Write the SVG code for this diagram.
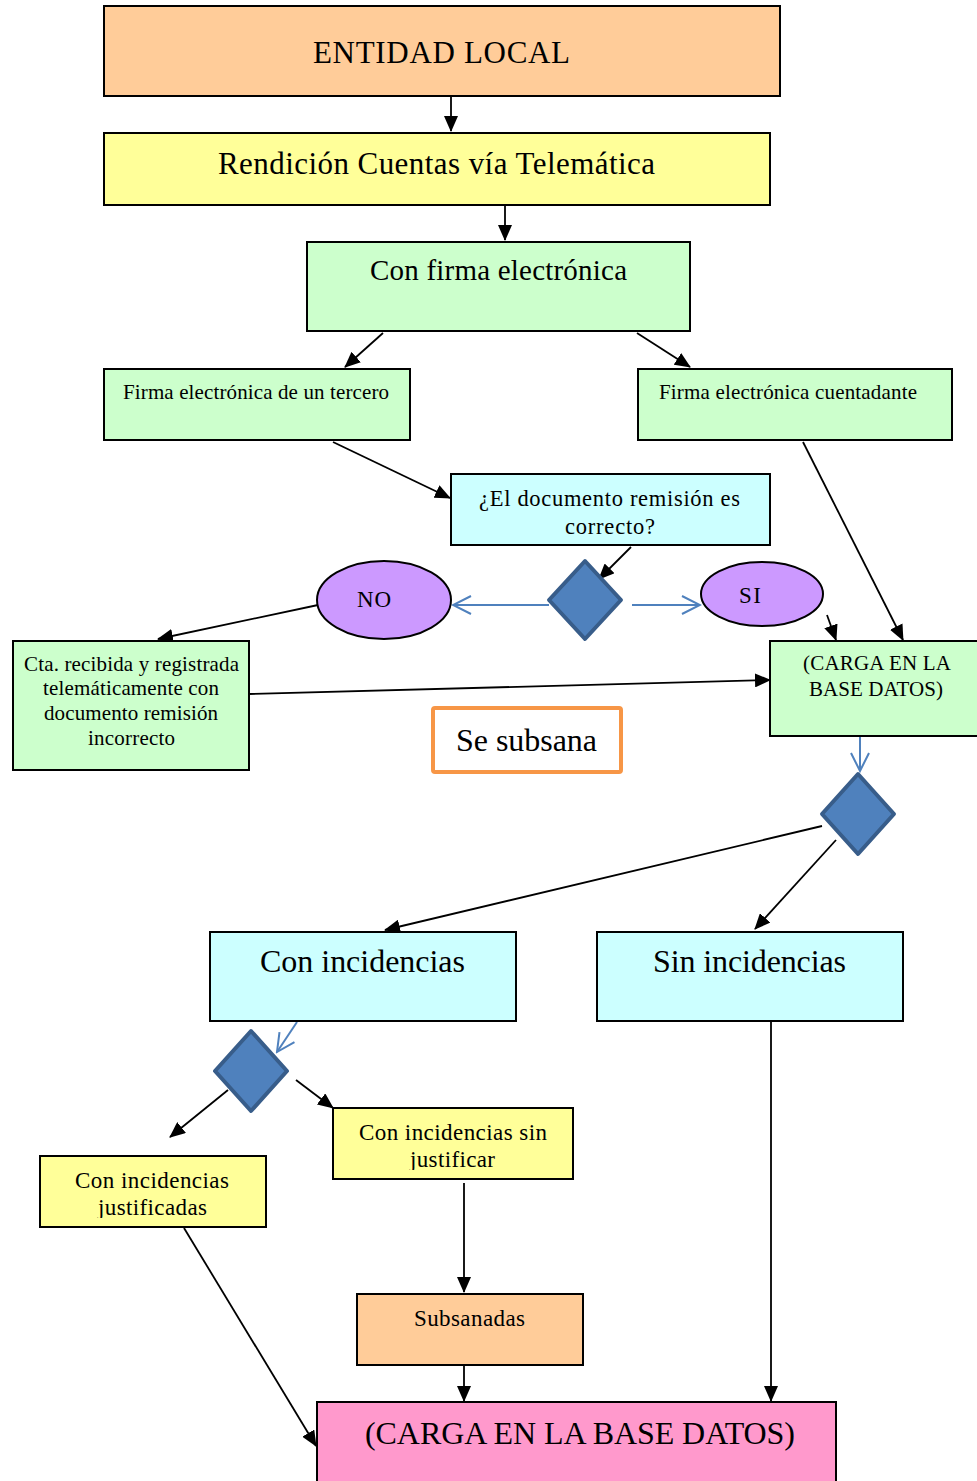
<svg xmlns="http://www.w3.org/2000/svg" width="977" height="1481" viewBox="0 0 977 1481">
  <style>
    .box { stroke: #000; stroke-width: 2; }
    .t { font-family: "Liberation Serif", "Times New Roman", serif; fill: #000; text-anchor: middle; }
    .peach { fill: #FFCC99; }
    .yellow { fill: #FFFF99; }
    .green { fill: #CCFFCC; }
    .cyan { fill: #CCFFFF; }
    .lilac { fill: #CC99FF; }
    .pink { fill: #FF99CC; }
    .dia { fill: #4F81BD; stroke: #385D8A; stroke-width: 4; stroke-linejoin: round; }
    .ln { stroke: #000; stroke-width: 1.8; fill: none; marker-end: url(#ah); }
    .bl { stroke: #4F81BD; stroke-width: 2; fill: none; marker-end: url(#ob); }
  </style>
  <defs>
    <marker id="ah" markerUnits="userSpaceOnUse" markerWidth="16" markerHeight="14" refX="15" refY="7" orient="auto">
      <path d="M0,0 L16,7 L0,14 Z" fill="#000"/>
    </marker>
    <marker id="ob" markerUnits="userSpaceOnUse" markerWidth="22" markerHeight="22" refX="20" refY="11" orient="auto">
      <path d="M2,2 L20,11 L2,20" fill="none" stroke="#4F81BD" stroke-width="2"/>
    </marker>
    <clipPath id="clipSin"><rect x="333" y="1108" width="240" height="62"/></clipPath>
    <clipPath id="clipJus"><rect x="40" y="1156" width="226" height="62"/></clipPath>
  </defs>

  <!-- connectors -->
  <g id="connectors">
    <line class="ln" x1="451" y1="96" x2="451" y2="131"/>
    <line class="ln" x1="505" y1="205" x2="505" y2="240"/>
    <line class="ln" x1="383" y1="333" x2="345" y2="367"/>
    <line class="ln" x1="637" y1="333" x2="690" y2="367"/>
    <line class="ln" x1="333" y1="442" x2="450" y2="498"/>
    <line class="ln" x1="631" y1="547" x2="599" y2="579"/>
    <line class="bl" x1="549" y1="605" x2="453" y2="605"/>
    <line class="bl" x1="632" y1="605" x2="700" y2="605"/>
    <line class="ln" x1="318" y1="605" x2="158" y2="639"/>
    <line class="ln" x1="827" y1="615" x2="836" y2="640"/>
    <line class="ln" x1="803" y1="442" x2="903" y2="640"/>
    <line class="ln" x1="249" y1="694" x2="770" y2="680"/>
    <line class="bl" x1="860" y1="737" x2="860" y2="771"/>
    <line class="ln" x1="822" y1="826" x2="385" y2="930"/>
    <line class="ln" x1="836" y1="840" x2="755" y2="929"/>
    <line class="bl" x1="297" y1="1022" x2="277" y2="1052"/>
    <line class="ln" x1="228" y1="1090" x2="170" y2="1137"/>
    <line class="ln" x1="296" y1="1080" x2="333" y2="1108"/>
    <line class="ln" x1="464" y1="1183" x2="464" y2="1292"/>
    <line class="ln" x1="464" y1="1365" x2="464" y2="1401"/>
    <line class="ln" x1="771" y1="1022" x2="771" y2="1401"/>
    <line class="ln" x1="184" y1="1228" x2="316" y2="1446"/>
  </g>

  <g id="entidad-local">
    <rect class="box peach" x="104" y="6" width="676" height="90"/>
    <text class="t" x="441.5" y="63" font-size="31" textLength="257">ENTIDAD LOCAL</text>
  </g>

  <g id="rendicion">
    <rect class="box yellow" x="104" y="133" width="666" height="72"/>
    <text class="t" x="436.5" y="174" font-size="31" textLength="437">Rendición Cuentas vía Telemática</text>
  </g>

  <g id="con-firma">
    <rect class="box green" x="307" y="242" width="383" height="89"/>
    <text class="t" x="498.5" y="280" font-size="29" textLength="257">Con firma electrónica</text>
  </g>

  <g id="firma-tercero">
    <rect class="box green" x="104" y="369" width="306" height="71"/>
    <text class="t" x="256" y="399" font-size="21" textLength="266">Firma electrónica de un tercero</text>
  </g>

  <g id="firma-cuentadante">
    <rect class="box green" x="638" y="369" width="314" height="71"/>
    <text class="t" x="788" y="399" font-size="21" textLength="258">Firma electrónica cuentadante</text>
  </g>

  <g id="pregunta-documento">
    <rect class="box cyan" x="451" y="474" width="319" height="71"/>
    <text class="t" x="609.5" y="506" font-size="22.5" textLength="261">¿El documento remisión es</text>
    <text class="t" x="610" y="534" font-size="22.5" textLength="90">correcto?</text>
  </g>

  <g id="decision-documento">
    <polygon class="dia" points="585,561 621,600 585,639 549,600"/>
  </g>

  <g id="no">
    <ellipse class="lilac" stroke="#000" stroke-width="2" cx="384" cy="600" rx="67" ry="39"/>
    <text class="t" x="374" y="607" font-size="23" textLength="34">NO</text>
  </g>

  <g id="si">
    <ellipse class="lilac" stroke="#000" stroke-width="2" cx="762" cy="594" rx="61" ry="32"/>
    <text class="t" x="750" y="603" font-size="23" textLength="22">SI</text>
  </g>

  <g id="cta-incorrecto">
    <rect class="box green" x="13" y="641" width="236" height="129"/>
    <text class="t" x="131.5" y="671" font-size="21" textLength="215">Cta. recibida y registrada</text>
    <text class="t" x="131" y="695" font-size="21" textLength="176">telemáticamente con</text>
    <text class="t" x="131" y="720" font-size="21" textLength="174">documento remisión</text>
    <text class="t" x="131.5" y="745" font-size="21" textLength="87">incorrecto</text>
  </g>

  <g id="carga-base-datos-1">
    <rect class="box green" x="770" y="641" width="212" height="95"/>
    <text class="t" x="877" y="670" font-size="21" textLength="148">(CARGA EN LA</text>
    <text class="t" x="876" y="696" font-size="21" textLength="134">BASE DATOS)</text>
  </g>

  <g id="se-subsana">
    <rect x="433" y="708" width="188" height="64" rx="2" fill="#FFFFFF" stroke="#F79646" stroke-width="4"/>
    <text class="t" x="526.5" y="751" font-size="32" textLength="141">Se subsana</text>
  </g>

  <g id="decision-carga">
    <polygon class="dia" points="858,774 894,814 858,854 822,814"/>
  </g>

  <g id="con-incidencias">
    <rect class="box cyan" x="210" y="932" width="306" height="89"/>
    <text class="t" x="362.5" y="972" font-size="32" textLength="205">Con incidencias</text>
  </g>

  <g id="sin-incidencias">
    <rect class="box cyan" x="597" y="932" width="306" height="89"/>
    <text class="t" x="749.5" y="972" font-size="32" textLength="193">Sin incidencias</text>
  </g>

  <g id="decision-incidencias">
    <polygon class="dia" points="251,1031 287,1071 251,1111 215,1071"/>
  </g>

  <g id="sin-justificar">
    <rect class="box yellow" x="333" y="1108" width="240" height="71"/>
    <g clip-path="url(#clipSin)">
      <text class="t" x="453" y="1140" font-size="23" textLength="188">Con incidencias sin</text>
      <text class="t" x="452.5" y="1167" font-size="23" textLength="85">justificar</text>
    </g>
  </g>

  <g id="justificadas">
    <rect class="box yellow" x="40" y="1156" width="226" height="71"/>
    <g clip-path="url(#clipJus)">
      <text class="t" x="152" y="1188" font-size="23" textLength="154">Con incidencias</text>
      <text class="t" x="152.5" y="1215" font-size="23" textLength="109">justificadas</text>
    </g>
  </g>

  <g id="subsanadas">
    <rect class="box peach" x="357" y="1294" width="226" height="71"/>
    <text class="t" x="469.5" y="1326" font-size="23" textLength="111">Subsanadas</text>
  </g>

  <g id="carga-base-datos-2">
    <rect class="box pink" x="317" y="1402" width="519" height="90"/>
    <text class="t" x="580" y="1444" font-size="32" textLength="430">(CARGA EN LA BASE DATOS)</text>
  </g>
</svg>
